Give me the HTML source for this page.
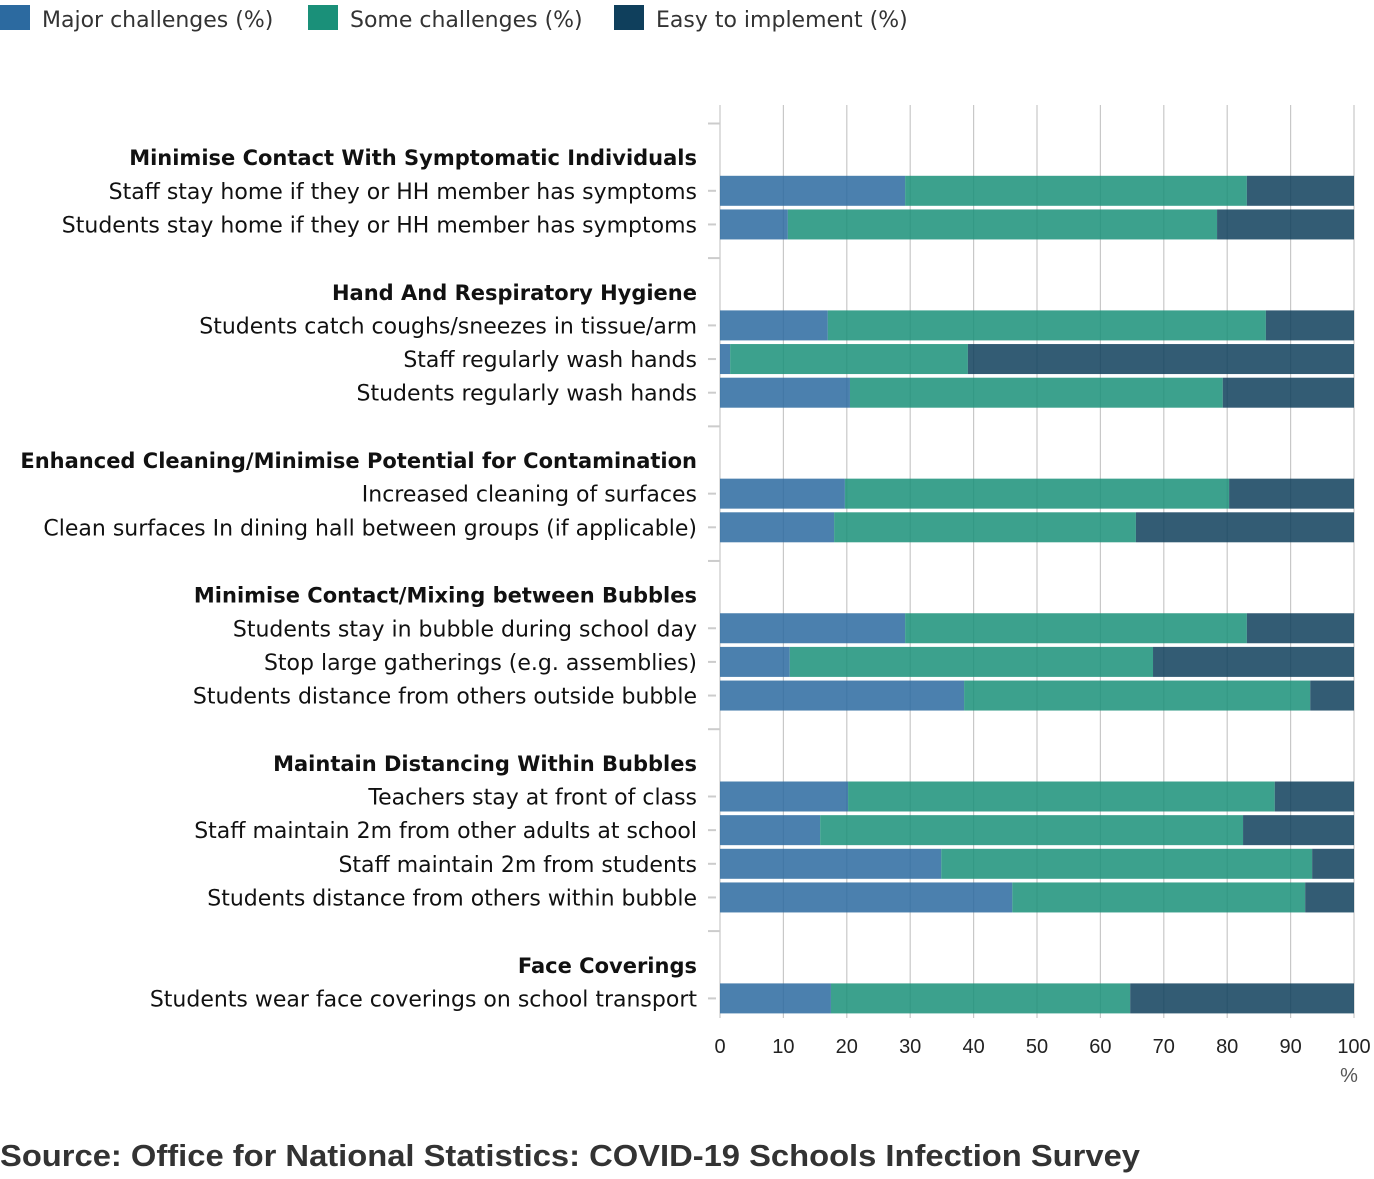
<!DOCTYPE html>
<html><head><meta charset="utf-8"><style>
body{margin:0;background:#fff;width:1374px;height:1174px;overflow:hidden;font-family:"Liberation Sans",sans-serif}
</style></head><body>
<svg width="1374" height="1174" xmlns="http://www.w3.org/2000/svg">
<g id="legend" font-size="22" fill="#333" font-family="DejaVu Sans, sans-serif">
<g><rect x="0" y="5" width="30" height="25" fill="#2c6aa0"/><text x="42" y="27">Major challenges (%)</text></g>
<g><rect x="308" y="5" width="30" height="25" fill="#1a9079"/><text x="350" y="27">Some challenges (%)</text></g>
<g><rect x="614" y="5" width="30" height="25" fill="#0f3f5c"/><text x="656" y="27">Easy to implement (%)</text></g>
</g>
<g id="grid"></g><g id="bars"></g><g id="labels" font-family="DejaVu Sans, sans-serif"></g><g id="axis"></g>
<text x="0" y="1166" font-size="31" font-weight="bold" fill="#333" textLength="1140" lengthAdjust="spacingAndGlyphs">Source: Office for National Statistics: COVID-19 Schools Infection Survey</text>
</svg>
<script>
const groups=["Minimise Contact With Symptomatic Individuals","Hand And Respiratory Hygiene","Enhanced Cleaning/Minimise Potential for Contamination","Minimise Contact/Mixing between Bubbles","Maintain Distancing Within Bubbles","Face Coverings"];
const categories=[["Staff stay home if they or HH member has symptoms","Students stay home if they or HH member has symptoms"],["Students catch coughs/sneezes in tissue/arm","Staff regularly wash hands","Students regularly wash hands"],["Increased cleaning of surfaces","Clean surfaces In dining hall between groups (if applicable)"],["Students stay in bubble during school day","Stop large gatherings (e.g. assemblies)","Students distance from others outside bubble"],["Teachers stay at front of class","Staff maintain 2m from other adults at school","Staff maintain 2m from students","Students distance from others within bubble"],["Students wear face coverings on school transport"]];
const major=[29.2,10.7,17.0,1.6,20.5,19.7,18.0,29.2,11.0,38.5,20.2,15.8,34.9,46.1,17.5];
const some=[53.9,67.7,69.1,37.5,58.8,60.6,47.6,53.9,57.3,54.6,67.3,66.7,58.5,46.2,47.2];
const easy=[16.9,21.6,13.9,60.9,20.7,19.7,34.4,16.9,31.7,6.9,12.5,17.5,6.6,7.7,35.3];
const xTicks=[0,10,20,30,40,50,60,70,80,90,100];
const NS="http://www.w3.org/2000/svg";
const x=v=>720+v*6.34;
const slot=i=>123.5+i*33.65;
function mk(t,a,p){const e=document.createElementNS(NS,t);for(const k in a)e.setAttribute(k,a[k]);p.appendChild(e);return e;}
const G=document.getElementById('grid'),B=document.getElementById('bars'),L=document.getElementById('labels'),A=document.getElementById('axis');
xTicks.forEach(t=>{
 const l=mk('line',{x1:x(t),x2:x(t),y1:105,y2:1018,stroke:'#c8c8c8','stroke-width':1.2},G);
 
 
 const tx=mk('text',{x:x(t),y:1053,'font-size':20,'text-anchor':'middle',fill:'#222'},A);
 tx.textContent=t;
 
 
});
const pct=mk('text',{x:1349,y:1082,'font-size':20,'text-anchor':'middle',fill:'#555'},A);pct.textContent='%';


let s=0,r=0;
const cols=['#2c6aa0','#1a9079','#0f3f5c'];
groups.forEach((g,gi)=>{
 mk('line',{x1:708,x2:720,y1:slot(s),y2:slot(s),stroke:'#ccc','stroke-width':2},A);
 s++;
 const h=mk('text',{x:697,y:slot(s)+8,'font-size':21,'font-weight':'bold','text-anchor':'end',fill:'#111'},L);
 h.textContent=g;
 
 
 s++;
 categories[gi].forEach(c=>{
  const y=slot(s);
  mk('line',{x1:708,x2:716,y1:y,y2:y,stroke:'#ccc','stroke-width':2},A);
  const t=mk('text',{x:697,y:y+8,'font-size':22,'text-anchor':'end',fill:'#111'},L);
  t.textContent=c;
  
  
  const vals=[major[r],some[r],easy[r]];let acc=0;
  vals.forEach((v,k)=>{
   const rc=mk('rect',{x:x(acc),y:y-15,width:x(acc+v)-x(acc),height:30,fill:cols[k],'fill-opacity':0.85},B);
   
   
   acc+=v;
  });
  r++;s++;
 });
});
</script>
</body></html>
